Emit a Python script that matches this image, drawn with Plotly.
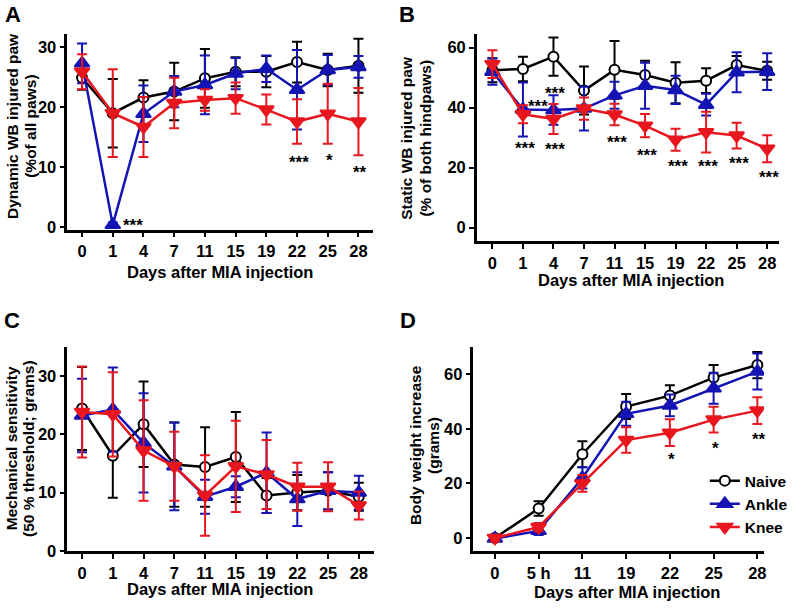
import plotly.graph_objects as go

W, H = 793, 610

# ---------------- data ----------------
days10 = ["0", "1", "4", "7", "11", "15", "19", "22", "25", "28"]
days7 = ["0", "5 h", "11", "19", "22", "25", "28"]

# Panel A: dynamic weight bearing
a_naive = [24.9, 19.0, 21.6, 22.6, 24.8, 25.9, 25.9, 27.5, 26.2, 26.9]
a_naive_err = [2.0, 5.7, 2.9, 4.8, 4.9, 2.4, 2.6, 3.4, 2.7, 4.5]
a_ankle = [27.3, 0.4, 18.9, 22.6, 23.7, 25.6, 26.4, 22.9, 26.2, 26.7]
a_ankle_err = [3.3, 0.4, 4.7, 2.6, 4.9, 2.6, 2.2, 6.6, 2.5, 1.8]
a_knee = [25.9, 19.0, 16.7, 20.7, 21.2, 21.5, 19.6, 17.6, 18.9, 17.6]
a_knee_err = [2.9, 7.3, 5.0, 4.2, 1.8, 2.6, 2.5, 3.7, 5.0, 5.6]

# Panel B: static weight bearing
b_naive = [52.5, 52.9, 57.0, 45.7, 52.6, 50.9, 48.3, 49.0, 54.2, 52.3]
b_naive_err = [4.0, 4.1, 6.4, 8.0, 9.6, 4.7, 6.8, 4.1, 3.0, 3.0]
b_ankle = [52.0, 39.4, 39.2, 39.7, 44.1, 47.3, 45.9, 41.0, 51.8, 52.0]
b_ankle_err = [4.4, 9.0, 4.9, 7.3, 4.5, 7.7, 4.7, 3.6, 6.7, 6.1]
b_knee = [54.5, 37.8, 36.2, 39.7, 37.7, 34.0, 29.3, 31.8, 30.7, 26.3]
b_knee_err = [4.6, 3.0, 5.0, 3.7, 3.6, 3.9, 3.7, 6.8, 4.3, 4.5]

# Panel C: mechanical sensitivity
c_naive = [24.4, 16.3, 21.7, 14.8, 14.4, 16.1, 9.5, 10.0, 10.3, 9.3]
c_naive_err = [7.1, 7.2, 7.3, 7.2, 6.8, 7.7, 3.0, 3.0, 3.2, 2.4]
c_ankle = [23.2, 24.2, 18.5, 14.5, 9.3, 11.0, 13.4, 8.9, 10.3, 10.0]
c_ankle_err = [6.3, 7.2, 8.5, 7.5, 2.9, 1.8, 6.9, 4.6, 3.2, 2.9]
c_knee = [23.8, 23.4, 17.2, 14.5, 9.5, 14.5, 13.1, 11.0, 11.0, 7.8]
c_knee_err = [7.8, 7.2, 8.6, 5.9, 6.9, 7.8, 5.9, 4.1, 4.2, 2.4]

# Panel D: body weight increase
d_naive = [0.0, 10.8, 30.7, 48.2, 52.2, 58.8, 63.4]
d_naive_err = [1.0, 2.7, 4.8, 4.6, 3.8, 4.6, 4.8]
d_ankle = [-0.2, 2.6, 22.0, 45.5, 48.6, 54.9, 61.0]
d_ankle_err = [1.0, 1.5, 3.9, 4.4, 4.0, 5.7, 6.6]
d_knee = [0.0, 4.0, 20.0, 35.9, 38.6, 43.4, 46.7]
d_knee_err = [1.2, 1.5, 3.1, 4.7, 4.9, 4.7, 4.9]

# significance marks (category, y position, text, x shift px)
a_stars = [("1", 1.1, "***", 20), ("22", 11.7, "***", 2), ("25", 12.0, "*", 2), ("28", 9.95, "**", 2)]
b_stars = [("1", 41.9, "***", 15), ("4", 46.3, "***", 2), ("1", 27.9, "***", 2), ("4", 27.7, "***", 2),
           ("11", 30.1, "***", 2), ("15", 25.8, "***", 2), ("19", 22.0, "***", 2), ("22", 21.9, "***", 2),
           ("25", 23.0, "***", 2), ("28", 18.4, "***", 2)]
d_stars = [("22", 30.5, "*", 2), ("25", 34.7, "*", 2), ("28", 38.1, "**", 2)]

group_names = ["Naive", "Ankle", "Knee"]

# ---------------- styling ----------------
BLACK = "#000000"
BLUE = "#1414b4"
RED = "#e8161e"
FONT = "Liberation Sans, Arial, sans-serif"

styles = {
    "Naive": dict(color=BLACK, symbol="circle", size=10, fill="white"),
    "Ankle": dict(color=BLUE, symbol="triangle-up", size=13, fill=BLUE),
    "Knee": dict(color=RED, symbol="triangle-down", size=13, fill=RED),
}


def px_x(x):
    return x / W


def px_y(y):
    return 1 - y / H


fig = go.Figure()

panels = [
    ("x", "y", days10, [(a_naive, a_naive_err), (a_ankle, a_ankle_err), (a_knee, a_knee_err)], False),
    ("x2", "y2", days10, [(b_naive, b_naive_err), (b_ankle, b_ankle_err), (b_knee, b_knee_err)], False),
    ("x3", "y3", days10, [(c_naive, c_naive_err), (c_ankle, c_ankle_err), (c_knee, c_knee_err)], False),
    ("x4", "y4", days7, [(d_naive, d_naive_err), (d_ankle, d_ankle_err), (d_knee, d_knee_err)], True),
]

for xa, ya, cats, series, show in panels:
    for name, (vals, errs) in zip(group_names, series):
        st = styles[name]
        fig.add_trace(go.Scatter(
            x=cats, y=vals, xaxis=xa, yaxis=ya, name=name,
            mode="lines+markers", showlegend=show,
            line=dict(color=st["color"], width=2.5),
            marker=dict(symbol=st["symbol"], size=st["size"], color=st["fill"],
                        line=dict(color=st["color"], width=2)),
            error_y=dict(type="data", array=errs, visible=True, color=st["color"],
                         thickness=2, width=5),
        ))

axis_common = dict(
    showline=True, linewidth=2.5, linecolor="black", ticks="outside",
    ticklen=5, tickwidth=2, tickcolor="black", showgrid=False, zeroline=False,
    tickfont=dict(size=16.5, family=FONT, color="black", weight="bold"),
    mirror=False,
)
xaxis_common = dict(axis_common, type="category")

layout = dict(
    width=W, height=H, margin=dict(l=0, r=0, t=0, b=0),
    paper_bgcolor="white", plot_bgcolor="white",
    font=dict(family=FONT, color="black", weight="bold"),
    legend=dict(x=px_x(712), y=px_y(471), xanchor="left", yanchor="top",
                font=dict(size=15.5, family=FONT, weight="bold"), bgcolor="rgba(0,0,0,0)",
                itemwidth=30, tracegroupgap=0),
)

layout["xaxis"] = dict(xaxis_common, domain=[px_x(68), px_x(377)], range=[-0.48, 9.48], anchor="y")
layout["yaxis"] = dict(axis_common, domain=[px_y(233), px_y(35)], range=[-0.38, 32.1], tickvals=[0, 10, 20, 30], anchor="x")
layout["xaxis2"] = dict(xaxis_common, domain=[px_x(481.7), px_x(786.7)], range=[-0.51, 9.38], anchor="y2")
layout["yaxis2"] = dict(axis_common, domain=[px_y(245), px_y(35)], range=[-4.6, 64.4], tickvals=[0, 20, 40, 60], anchor="x2")
layout["xaxis3"] = dict(xaxis_common, domain=[px_x(68), px_x(378)], range=[-0.48, 9.5], anchor="y3")
layout["yaxis3"] = dict(axis_common, domain=[px_y(559.3), px_y(351.7)], range=[0, 35], tickvals=[0, 10, 20, 30], anchor="x3")
layout["xaxis4"] = dict(xaxis_common, domain=[px_x(478.3), px_x(771.7)], range=[-0.49, 6.15], anchor="y4")
layout["yaxis4"] = dict(axis_common, domain=[px_y(559.3), px_y(351.7)], range=[-4.8, 70.2], tickvals=[0, 20, 40, 60], anchor="x4")

fig.update_layout(**layout)

ann = []
# panel letters
for letter, cx, cy in [("A", 13, 0), ("B", 411, 0), ("C", 12, 311), ("D", 412, 311)]:
    ann.append(dict(text=letter, x=px_x(cx), y=px_y(cy), xref="paper", yref="paper",
                    xanchor="center", yanchor="top", showarrow=False,
                    font=dict(size=22, family=FONT, weight="bold")))
# x axis titles
for cx, cy in [(222.5, 276), (637, 284), (222.5, 598), (633, 601)]:
    ann.append(dict(text="Days after MIA injection", x=px_x(cx), y=px_y(cy), xref="paper", yref="paper",
                    xanchor="center", yanchor="middle", showarrow=False,
                    font=dict(size=16.5, family=FONT, weight="bold")))
# y axis titles (each line placed separately)
for txt, cx, cy in [("Dynamic WB injured paw", 12, 128), ("(%of all paws)", 30, 128),
                    ("Static WB injured paw", 411, 140), ("(% of both hindpaws)", 430, 140),
                    ("Mechanical sensitivity", 11, 455), ("(50 % threshold; grams)", 29, 455),
                    ("Body weight increase", 420, 452), ("(grams)", 438, 452)]:
    ann.append(dict(text=txt, x=px_x(cx), y=px_y(cy), xref="paper", yref="paper",
                    xanchor="center", yanchor="middle", showarrow=False, textangle=-90,
                    font=dict(size=15.5, family=FONT, weight="bold")))
# significance stars (category axes take the category index)
for stars, cats, xr, yr in [(a_stars, days10, "x", "y"), (b_stars, days10, "x2", "y2"), (d_stars, days7, "x4", "y4")]:
    for cat, yv, txt, xs in stars:
        ann.append(dict(text=txt, x=cats.index(cat), y=yv, xref=xr, yref=yr, xanchor="center", yanchor="middle",
                        showarrow=False, xshift=xs, yshift=-5,
                        font=dict(size=17, family=FONT, weight="bold", color="black")))

fig.update_layout(annotations=ann)

fig.write_html(
    "out.html",
    config={"displayModeBar": False, "responsive": False},
    post_script="document.body.style.margin='0';document.body.style.padding='0';document.documentElement.style.overflow='hidden';",
)
